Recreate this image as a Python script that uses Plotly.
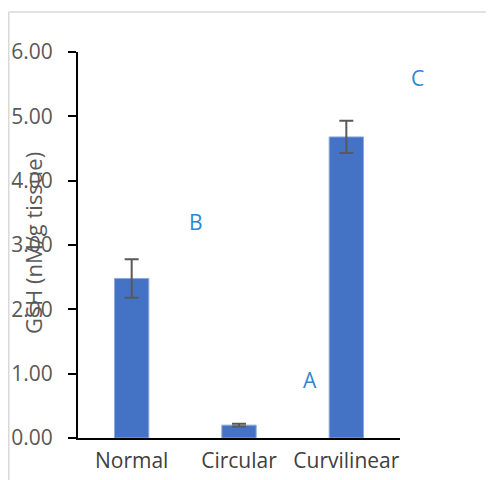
import plotly.graph_objects as go

categories = ["Normal", "Circular", "Curvilinear"]
gsh_means = [2.48, 0.20, 4.68]
gsh_errors = [0.30, 0.02, 0.25]
y_ticks = [0, 1, 2, 3, 4, 5, 6]
letter_labels = ["B", "A", "C"]
letter_x = [0.60, 1.66, 2.66]
letter_y = [3.36, 0.90, 5.60]

# the page body adds an 8px offset, so the figure is drawn 8px smaller
W, H = 486, 472
L, T, B = 70, 44, 42
pw, ph = 322, 386
R = W - L - pw

fig = go.Figure()
fig.add_trace(go.Bar(
    x=categories, y=gsh_means, width=0.32,
    marker=dict(color="#4472C4", line=dict(color="#8fa9dc", width=1)),
    error_y=dict(type="data", array=gsh_errors, visible=True,
                 color="#595959", thickness=2, width=7),
))

font_family = "Open Sans, DejaVu Sans, sans-serif"
# letters placed in paper space converted from data positions (x range [-0.5, 2.5], y range [0, 6])
for t, xx, yy in zip(letter_labels, letter_x, letter_y):
    fig.add_annotation(x=(xx + 0.5) / 3.0, y=yy / 6.0, xref="paper", yref="paper",
                       xanchor="center", yanchor="middle",
                       text=t, showarrow=False,
                       font=dict(family=font_family, size=21, color="#2F87CF"))

fig.add_annotation(x=(25 - L) / pw, y=(H - B - 235) / ph, xref="paper", yref="paper",
                   xanchor="center", yanchor="middle",
                   text="GSH (nM/g tissue)", textangle=-90, showarrow=False,
                   font=dict(family=font_family, size=22, color="#595959"))

# outer light gray frame
fig.add_shape(type="line", xref="paper", yref="paper",
              x0=(0.75 - L) / pw, x1=(W + 10 - L) / pw, y0=(H - B - 4) / ph, y1=(H - B - 4) / ph,
              line=dict(color="#d9d9d9", width=1.5))
fig.add_shape(type="line", xref="paper", yref="paper",
              x0=(0.75 - L) / pw, x1=(0.75 - L) / pw, y0=(H - B - 4) / ph, y1=-(B + 10) / ph,
              line=dict(color="#d9d9d9", width=1.5))

fig.update_layout(
    width=W, height=H, margin=dict(l=L, r=R, t=T, b=B),
    paper_bgcolor="white", plot_bgcolor="white", showlegend=False,
    font=dict(family=font_family, color="#595959"),
    xaxis=dict(range=[-0.5, 2.5], showline=True, linecolor="black", linewidth=2,
               ticks="", tickfont=dict(size=21, color="#404040"), showgrid=False,
               ticklabelstandoff=3, automargin=False),
    yaxis=dict(range=[0, 6], tickvals=y_ticks, tickformat=".2f", showline=True,
               linecolor="black", linewidth=2, ticks="outside", ticklen=8,
               tickwidth=2, tickcolor="black", showgrid=False, zeroline=False,
               tickfont=dict(size=21, color="#595959"), ticklabelstandoff=11,
               automargin=False),
)

fig.write_html("out.html")
